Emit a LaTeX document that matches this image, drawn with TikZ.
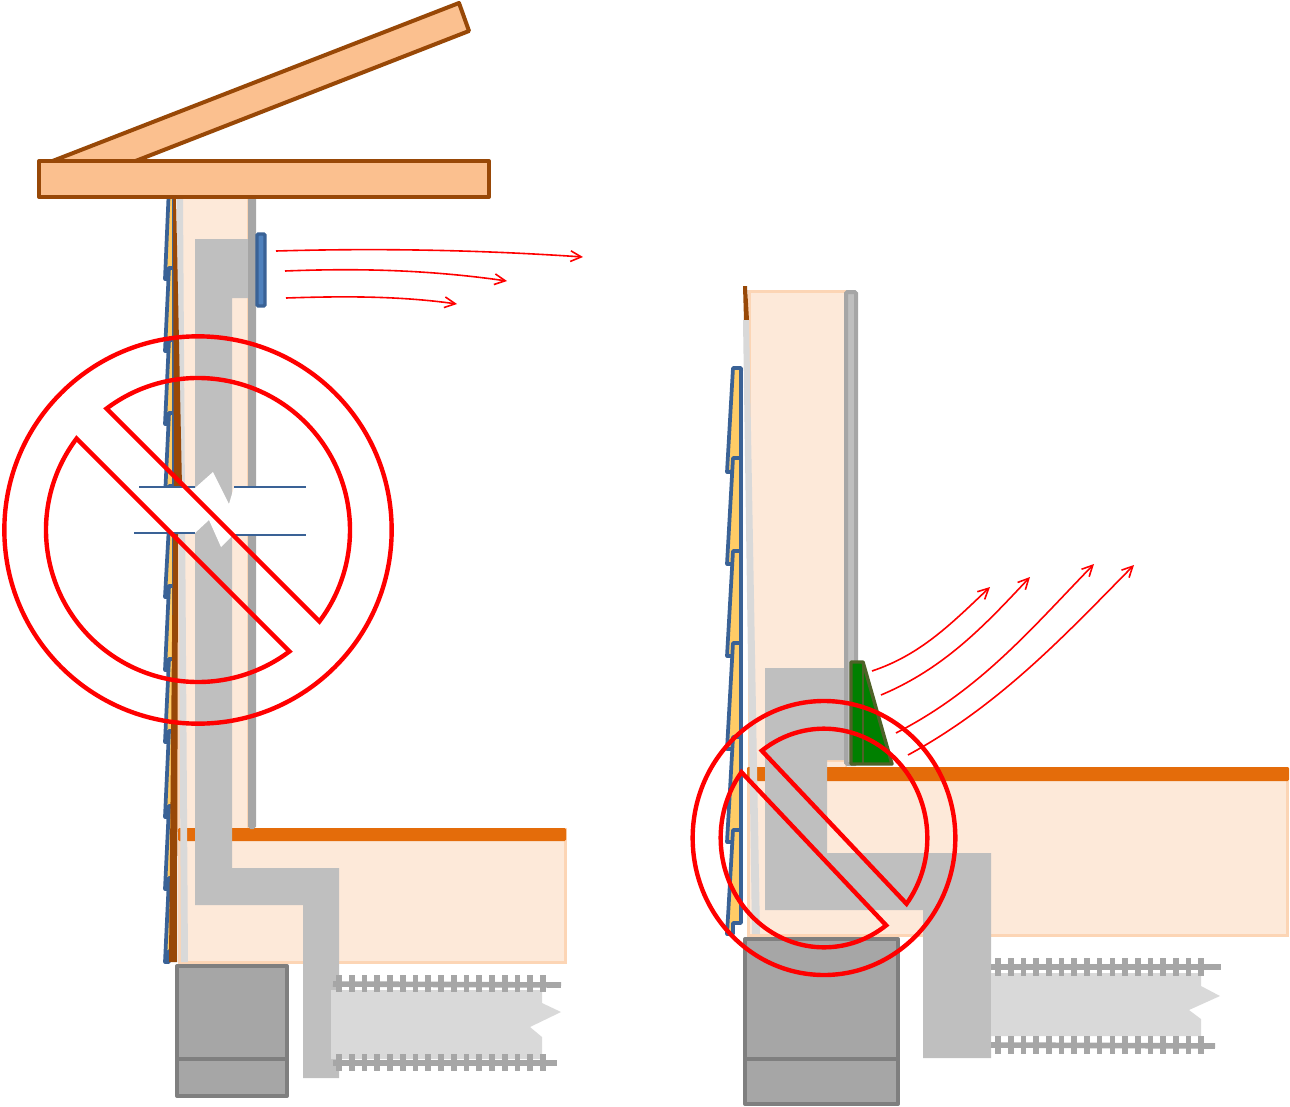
\documentclass[tikz,border=0pt]{standalone}
\usetikzlibrary{arrows.meta}
\definecolor{creamfill}{HTML}{FDE9D9}
\definecolor{creamline}{HTML}{FCD5B5}
\definecolor{woodfill}{HTML}{FBC08F}
\definecolor{woodline}{HTML}{984807}
\definecolor{ductgrey}{HTML}{BFBFBF}
\definecolor{midgrey}{HTML}{A6A6A6}
\definecolor{lightgrey}{HTML}{D9D9D9}
\definecolor{darkgrey}{HTML}{7F7F7F}
\definecolor{slaborange}{HTML}{E46C0A}
\definecolor{sidingline}{HTML}{3A6296}
\definecolor{sidingfill}{HTML}{FFCC66}
\definecolor{ventfill}{HTML}{4F81BD}
\definecolor{greenfill}{HTML}{008000}
\definecolor{greenline}{HTML}{4F6228}
\tikzset{
  wood/.style={draw=woodline,fill=woodfill,line width=3pt,line join=round},
  cream/.style={draw=creamline,fill=creamfill,line width=2.25pt},
  duct/.style={fill=ductgrey},
  studwall/.style={draw=midgrey,fill=ductgrey,line width=3pt,rounded corners=1pt},
  siding/.style={draw=sidingline,fill=sidingfill,line width=2.8pt,line join=round},
  block/.style={draw=darkgrey,fill=midgrey,line width=3pt,line join=round},
  rebar/.style={draw=midgrey,line width=4.2pt},
  airflow/.style={draw=red,line width=1.2pt,-{Straight Barb[length=8pt,width=8pt]}},
  breakline/.style={draw=sidingline,line width=1.2pt},
  banmark/.style={draw=red,line width=3.3pt,line join=miter}
}
\newcommand\clapboard[5]{
  \draw[siding] (#2,#4) -- (#3,#4) -- (#3,#5-11) -- (#2,#5-11) -- (#2,#5) -- (#1,#5) -- cycle;
}
\begin{document}
\begin{tikzpicture}[x=0.75pt,y=-0.75pt]
\useasboundingbox (0,0) rectangle (1290,1107);

\draw[cream] (178,197) rectangle (248,830);
\draw[cream] (179,829) rectangle (565,962);
\fill[slaborange,rounded corners=1pt] (178,828) rectangle (566,841);
\fill[lightgrey] (177,197) -- (183,197) -- (188,962) -- (181,962) -- cycle;
\fill[duct] (195,239) -- (248,239) -- (248,298) -- (232,298) -- (232,868) -- (339,868)
  -- (339,1078) -- (303,1078) -- (303,905) -- (195,905) -- cycle;
\draw[studwall] (250,197) rectangle (254,827);
\foreach \ytop/\ybot in {186/279,268/351,340/424,413/497,525/597,586/670,659/742,731/817,806/889,878/962}{
  \clapboard{165}{169}{174}{\ytop}{\ybot}
}
\fill[woodline] (173,197) -- (176,197) -- (182,487) -- (178,535) -- (177,962) -- (169,962) -- (173,535) -- (174,487) -- cycle;
\draw[draw=sidingline,fill=ventfill,line width=2.6pt,rounded corners=1pt] (257,234) rectangle (265,306);
\draw[wood] (50,162) -- (459,3) -- (469,31) -- (133,162);
\draw[wood] (39,161) rectangle (489,197);

\fill[white] (139,488) -- (195,488) -- (213,472) -- (229,504) -- (234,487) -- (306,487)
  -- (306,535) -- (233,535) -- (221,547) -- (209,520) -- (195,533) -- (134,533) -- cycle;
\draw[breakline] (139,487) -- (195,487);
\draw[breakline] (234,487) -- (306,487);
\draw[breakline] (134,533) -- (195,533);
\draw[breakline] (233,535) -- (306,535);

\draw[block] (177,966) rectangle (287,1096);
\draw[block] (177,1059) -- (287,1059);
\fill[lightgrey] (331,990) -- (542,990) -- (542,1003) -- (561,1012) -- (530,1027) -- (542,1037) -- (542,1059) -- (331,1059) -- cycle;
\draw[rebar] (333,984) -- (561,985);
\draw[rebar] (333,1063) -- (557,1063);
\foreach \i in {0,...,16}{
  \draw[rebar] (339+12.75*\i,975) -- (339+12.75*\i,992);
  \draw[rebar] (339+12.75*\i,1054) -- (339+12.75*\i,1071);
}

\draw[airflow] (276,251) .. controls (380,248) and (480,250) .. (583,257);
\draw[airflow] (285,271) .. controls (360,268) and (430,270) .. (507,281);
\draw[airflow] (286,298) .. controls (345,296) and (400,296) .. (457,304);

\draw[cream] (749,291) rectangle (845,936);
\draw[cream] (748,768) rectangle (1287,935);
\fill[slaborange,rounded corners=1pt] (747,767) rectangle (1289,781);
\fill[creamfill] (827,760) rectangle (845,767);
\fill[creamline] (827,760) rectangle (845,762);
\fill[woodline] (743,286) -- (747,286) -- (749,320) -- (744,320) -- cycle;
\fill[lightgrey] (743,320) -- (749,320) -- (760,934) -- (752,934) -- cycle;
\fill[duct] (765,668) -- (845,668) -- (845,760) -- (827,760) -- (827,853) -- (991,853)
  -- (991,1058) -- (923,1058) -- (923,910) -- (765,910) -- cycle;
\draw[studwall] (846,292) rectangle (856,764);
\foreach \ytop/\ybot in {368/472,458/564,551/656,643/749,737/842,830/934}{
  \clapboard{727}{733}{741}{\ytop}{\ybot}
}
\draw[draw=greenline,fill=greenfill,line width=2.6pt,line join=round] (851,662) -- (863,662) -- (892,764) -- (851,764) -- cycle;
\draw[draw=greenline,line width=1.5pt] (863,662) -- (863,764);

\draw[block] (745,939) rectangle (898,1104);
\draw[block] (745,1059) -- (898,1059);
\fill[lightgrey] (991,973) -- (1201,973) -- (1201,986) -- (1220,996) -- (1189,1010) -- (1201,1019) -- (1201,1036) -- (991,1036) -- cycle;
\draw[rebar] (991,967) -- (1221,967);
\draw[rebar] (991,1045) -- (1215,1046);
\foreach \i in {0,...,16}{
  \draw[rebar] (998+12.7*\i,958) -- (998+12.7*\i,976);
  \draw[rebar] (998+12.7*\i,1036) -- (998+12.7*\i,1054);
}

\draw[airflow] (872,671) .. controls (920,655) and (950,625) .. (990,587);
\draw[airflow] (881,695) .. controls (945,668) and (985,625) .. (1030,577);
\draw[airflow] (896,733) .. controls (980,690) and (1030,630) .. (1094,564);
\draw[airflow] (908,755) .. controls (1000,705) and (1065,635) .. (1134,565);

\foreach \cx/\cy/\outx/\outy/\inx/\iny in {198/530/145.25pt/145.25pt/114pt/114pt,824/838/98.5pt/102.75pt/77.5pt/82pt}{
  \draw[banmark] (\cx,\cy) ellipse [x radius=\outx,y radius=\outy];
  \draw[banmark] (\cx,\cy) ++(127:{\inx} and {\iny}) arc [start angle=127,end angle=-37,x radius=\inx,y radius=\iny] -- cycle;
  \draw[banmark] (\cx,\cy) ++(143:{\inx} and {\iny}) arc [start angle=143,end angle=307,x radius=\inx,y radius=\iny] -- cycle;
}
\end{tikzpicture}
\end{document}
